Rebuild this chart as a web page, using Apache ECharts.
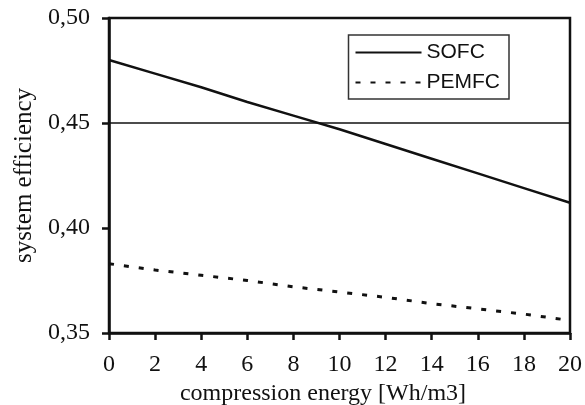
<!DOCTYPE html>
<html>
<head>
<meta charset="utf-8">
<script src="https://cdn.jsdelivr.net/npm/echarts@6/dist/echarts.min.js"></script>
<style>
  html, body { margin: 0; padding: 0; background: #fff; }
  #chart { width: 585px; height: 405px; }
</style>
</head>
<body>
<div id="chart"></div>
<script>
// Compression energy [Wh/m3]
const energy = [0, 2, 4, 6, 8, 10, 12, 14, 16, 18, 20];
// System efficiency of each fuel cell type
const sofc  = [0.480, 0.4735, 0.467, 0.460, 0.4535, 0.447, 0.440, 0.433, 0.426, 0.419, 0.412];
const pemfc = [0.383, 0.380, 0.3775, 0.375, 0.372, 0.3695, 0.367, 0.364, 0.3615, 0.359, 0.356];
const refLevel = 0.45;

const pairs = (xs, ys) => xs.map((x, i) => [x, ys[i]]);
const serif = 'Liberation Serif';
const ink = '#111';

const chart = echarts.init(document.getElementById('chart'), null, { renderer: 'canvas' });
chart.setOption({
  backgroundColor: '#fff',
  animation: false,
  grid: {
    left: 109, right: 15, top: 18, bottom: 72,
    outerBoundsMode: 'none',
    containLabel: false,
    show: true, borderColor: ink, borderWidth: 2.5, backgroundColor: 'transparent'
  },
  legend: {
    orient: 'vertical',
    right: 76, top: 35,
    padding: [7, 9, 6, 6],
    itemGap: 9,
    itemWidth: 66, itemHeight: 14,
    borderColor: '#333', borderWidth: 1.5, borderRadius: 0,
    itemStyle: { opacity: 0 },
    textStyle: { fontFamily: 'Liberation Sans', fontSize: 21, color: ink },
    data: ['SOFC', 'PEMFC']
  },
  xAxis: {
    type: 'value', min: 0, max: 20, interval: 2,
    name: 'compression energy [Wh/m3]',
    nameLocation: 'middle', nameGap: 48,
    nameTextStyle: { fontFamily: serif, fontSize: 24, color: ink, padding: [0, 33, 0, 0] },
    axisLine: { lineStyle: { color: ink, width: 2.5 } },
    axisTick: { show: true, length: 7, lineStyle: { color: ink, width: 2.5 } },
    axisLabel: { fontFamily: serif, fontSize: 24, color: ink, margin: 20 },
    splitLine: { show: false }
  },
  yAxis: {
    type: 'value', min: 0.35, max: 0.50, interval: 0.05,
    name: 'system efficiency',
    nameLocation: 'middle', nameGap: 68,
    nameTextStyle: { fontFamily: serif, fontSize: 25, color: ink },
    axisLine: { show: true, lineStyle: { color: ink, width: 2.5 } },
    axisTick: { show: true, length: 7, lineStyle: { color: ink, width: 2.5 } },
    axisLabel: {
      fontFamily: serif, fontSize: 24, color: ink, margin: 19,
      formatter: v => v.toFixed(2).replace('.', ',')
    },
    splitLine: { show: false }
  },
  series: [
    {
      name: 'SOFC', type: 'line', data: pairs(energy, sofc),
      symbol: 'none', color: ink,
      lineStyle: { color: ink, width: 2.5 },
      markLine: {
        silent: true, symbol: 'none', label: { show: false },
        lineStyle: { color: ink, width: 1.5, type: 'solid' },
        data: [{ yAxis: refLevel }]
      }
    },
    {
      name: 'PEMFC', type: 'line', data: pairs(energy, pemfc),
      symbol: 'none', color: ink,
      lineStyle: { color: ink, width: 3, type: [5, 10] }
    }
  ]
});
</script>
</body>
</html>
